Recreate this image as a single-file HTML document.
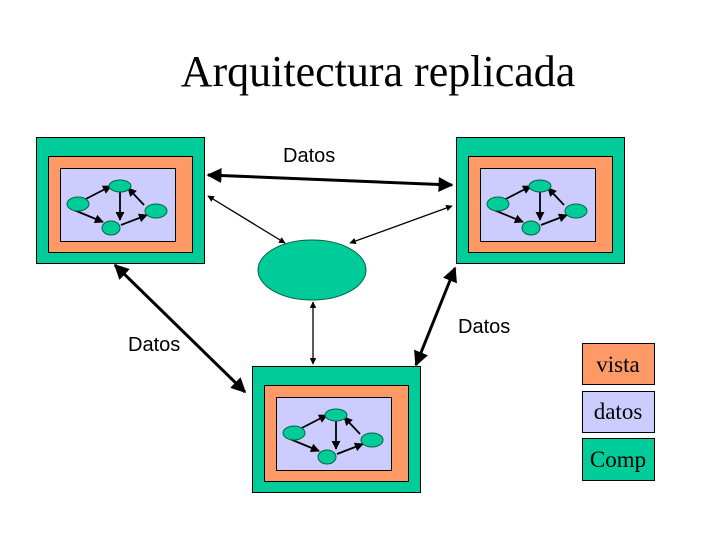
<!DOCTYPE html><html><head><style>body{margin:0;background:#fff}</style></head><body>
<svg width="720" height="540" xmlns="http://www.w3.org/2000/svg" font-family="Liberation Serif, serif">
<defs><marker id="a" viewBox="0 0 10 10" refX="9" refY="5" markerWidth="5" markerHeight="5" orient="auto-start-reverse"><path d="M0,0L10,5L0,10z" fill="#000"/></marker>
<marker id="b" viewBox="0 0 10 10" refX="9" refY="5" markerWidth="5" markerHeight="5" orient="auto-start-reverse"><path d="M0,0L10,5L0,10z" fill="#000"/></marker>
<g id="box">
<rect x="36.5" y="137.5" width="168" height="126" fill="#00cc99" stroke="#000"/>
<rect x="48.5" y="156.5" width="144" height="96" fill="#ff9966" stroke="#000"/>
<rect x="60.5" y="168.5" width="115" height="73" fill="#ccccff" stroke="#000"/>
<g stroke="#000" stroke-width="1.8" marker-end="url(#a)">
<line x1="80" y1="202" x2="111" y2="186"/><line x1="120" y1="190" x2="120" y2="220"/><line x1="144" y1="205" x2="128" y2="188"/>
<line x1="74" y1="210" x2="103" y2="222"/><line x1="121" y1="225" x2="147" y2="215"/></g>
<g fill="#00cc99" stroke="#006644"><ellipse cx="120" cy="186" rx="11" ry="6"/><ellipse cx="78" cy="204" rx="11" ry="7"/><ellipse cx="156" cy="211" rx="11" ry="7"/><ellipse cx="111" cy="228" rx="9" ry="7"/></g>
</g></defs>
<text x="378" y="86" font-size="44" text-anchor="middle">Arquitectura replicada</text>
<use href="#box"/><use href="#box" transform="translate(420,0)"/><use href="#box" transform="translate(216,229)"/>
<ellipse cx="312" cy="270" rx="54" ry="30" fill="#00cc99" stroke="#006644"/>
<g stroke="#000">
<line x1="208" y1="175" x2="452" y2="185" stroke-width="3" marker-start="url(#a)" marker-end="url(#a)"/>
<line x1="208" y1="196" x2="285" y2="243" stroke-width="1.3" marker-start="url(#b)" marker-end="url(#b)"/>
<line x1="452" y1="206" x2="350" y2="243" stroke-width="1.3" marker-start="url(#b)" marker-end="url(#b)"/>
<line x1="115" y1="265" x2="245" y2="392" stroke-width="3" marker-start="url(#a)" marker-end="url(#a)"/>
<line x1="455" y1="268" x2="416" y2="365" stroke-width="3" marker-start="url(#a)" marker-end="url(#a)"/>
<line x1="313" y1="302" x2="313" y2="364" stroke-width="1.3" marker-start="url(#b)" marker-end="url(#b)"/>
</g>
<g font-family="Liberation Sans, sans-serif" font-size="20"><text x="283" y="162">Datos</text><text x="128" y="351">Datos</text><text x="458" y="333">Datos</text></g>
<rect x="582.5" y="343.5" width="72" height="41" fill="#ff9966" stroke="#000"/>
<rect x="582.5" y="391.5" width="72" height="41" fill="#ccccff" stroke="#000"/>
<rect x="582.5" y="438.5" width="72" height="42" fill="#00cc99" stroke="#000"/>
<g font-size="23" text-anchor="middle"><text x="618" y="372">vista</text><text x="618" y="419">datos</text><text x="618" y="467">Comp</text></g>
</svg></body></html>
